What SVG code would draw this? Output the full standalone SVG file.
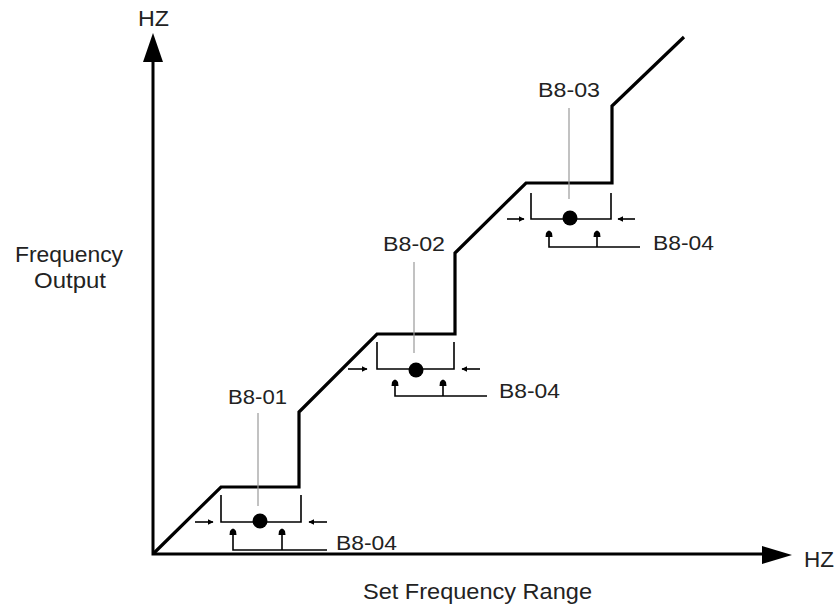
<svg xmlns="http://www.w3.org/2000/svg" width="839" height="608" viewBox="0 0 839 608">
<defs>
<style>
.t{font-family:"Liberation Sans",Arial,sans-serif;font-size:20px;fill:#222}
.b{font-size:22px}
.ax{stroke:#000;stroke-width:3;fill:none}
.cv{stroke:#000;stroke-width:3.2;fill:none;stroke-linejoin:miter}
.br{stroke:#000;stroke-width:1.6;fill:none}
.ld{stroke:#999;stroke-width:1.2;fill:none}
.pin{fill:#000}
</style>
<marker id="ah" viewBox="0 0 10 10" refX="9" refY="5" markerWidth="6" markerHeight="6" markerUnits="userSpaceOnUse" orient="auto">
<path d="M0,0 L10,5 L0,10 z" fill="#000"/>
</marker>
</defs>
<rect width="839" height="608" fill="#fff"/>
<g id="axes">
<path class="ax" d="M153,62 L153,554 L764,554"/>
<path d="M153,33 L143,62 L163,62 z" fill="#000"/>
<path d="M792,555 L762,546 L762,564 z" fill="#000"/>
</g>
<g id="curve">
<path class="cv" d="M154,553 L221,487 L299,487 L299,412 L377,334 L455,334 L455,253 L526,183 L612,183 L612,106 L684,37"/>
</g>
<g id="labels">
<text class="t b" x="138" y="26" textLength="31" lengthAdjust="spacingAndGlyphs">HZ</text>
<text class="t b" x="804" y="567" textLength="30" lengthAdjust="spacingAndGlyphs">HZ</text>
<text class="t b" x="15" y="262" textLength="108" lengthAdjust="spacingAndGlyphs">Frequency</text>
<text class="t b" x="34" y="288" textLength="72" lengthAdjust="spacingAndGlyphs">Output</text>
<text class="t b" x="363" y="599" textLength="229" lengthAdjust="spacingAndGlyphs">Set Frequency Range</text>
</g>
<g id="band1">
<text class="t" x="228" y="404" textLength="59" lengthAdjust="spacingAndGlyphs">B8-01</text>
<line class="ld" x1="258" y1="413" x2="258" y2="506"/>
<path class="br" d="M221,495 L221,522 L301,522 L301,495"/>
<circle cx="260" cy="521" r="7.5" fill="#000"/>
<g class="connectors">
<line class="br" x1="195" y1="522" x2="213" y2="522" marker-end="url(#ah)"/>
<line class="br" x1="327" y1="522" x2="309" y2="522" marker-end="url(#ah)"/>
<path class="br" d="M233,532 L233,550 L327,550"/>
<line class="br" x1="282" y1="550" x2="282" y2="532"/>
</g>
<path class="pin" d="M229.5,535 L230,531 Q233,526 236,531 L236.5,535 z"/>
<path class="pin" d="M278.5,535 L279,531 Q282,526 285,531 L285.5,535 z"/>
<text class="t" x="336" y="550" textLength="61" lengthAdjust="spacingAndGlyphs">B8-04</text>
</g>
<g id="band2">
<text class="t" x="383" y="251" textLength="62" lengthAdjust="spacingAndGlyphs">B8-02</text>
<line class="ld" x1="414" y1="262" x2="414" y2="353"/>
<path class="br" d="M377,342 L377,369 L454,369 L454,342"/>
<circle cx="416" cy="370" r="7.5" fill="#000"/>
<line class="br" x1="348" y1="369" x2="367" y2="369" marker-end="url(#ah)"/>
<line class="br" x1="480" y1="369" x2="462" y2="369" marker-end="url(#ah)"/>
<path class="br" d="M395,383 L395,396 L487,396"/>
<line class="br" x1="443" y1="396" x2="443" y2="383"/>
<path class="pin" d="M391.5,386 L392,382 Q395,377 398,382 L398.5,386 z"/>
<path class="pin" d="M439.5,386 L440,382 Q443,377 446,382 L446.5,386 z"/>
<text class="t" x="499" y="398" textLength="61" lengthAdjust="spacingAndGlyphs">B8-04</text>
</g>
<g id="band3">
<text class="t" x="538" y="97" textLength="62" lengthAdjust="spacingAndGlyphs">B8-03</text>
<line class="ld" x1="569" y1="108" x2="569" y2="199"/>
<path class="br" d="M531,193 L531,219 L611,219 L611,193"/>
<circle cx="570" cy="218" r="7.5" fill="#000"/>
<line class="br" x1="507" y1="219" x2="524" y2="219" marker-end="url(#ah)"/>
<line class="br" x1="635" y1="219" x2="618" y2="219" marker-end="url(#ah)"/>
<path class="br" d="M549,234 L549,247 L640,247"/>
<line class="br" x1="597" y1="247" x2="597" y2="234"/>
<path class="pin" d="M545.5,237 L546,233 Q549,228 552,233 L552.5,237 z"/>
<path class="pin" d="M593.5,237 L594,233 Q597,228 600,233 L600.5,237 z"/>
<text class="t" x="653" y="250" textLength="61" lengthAdjust="spacingAndGlyphs">B8-04</text>
</g>
</svg>
